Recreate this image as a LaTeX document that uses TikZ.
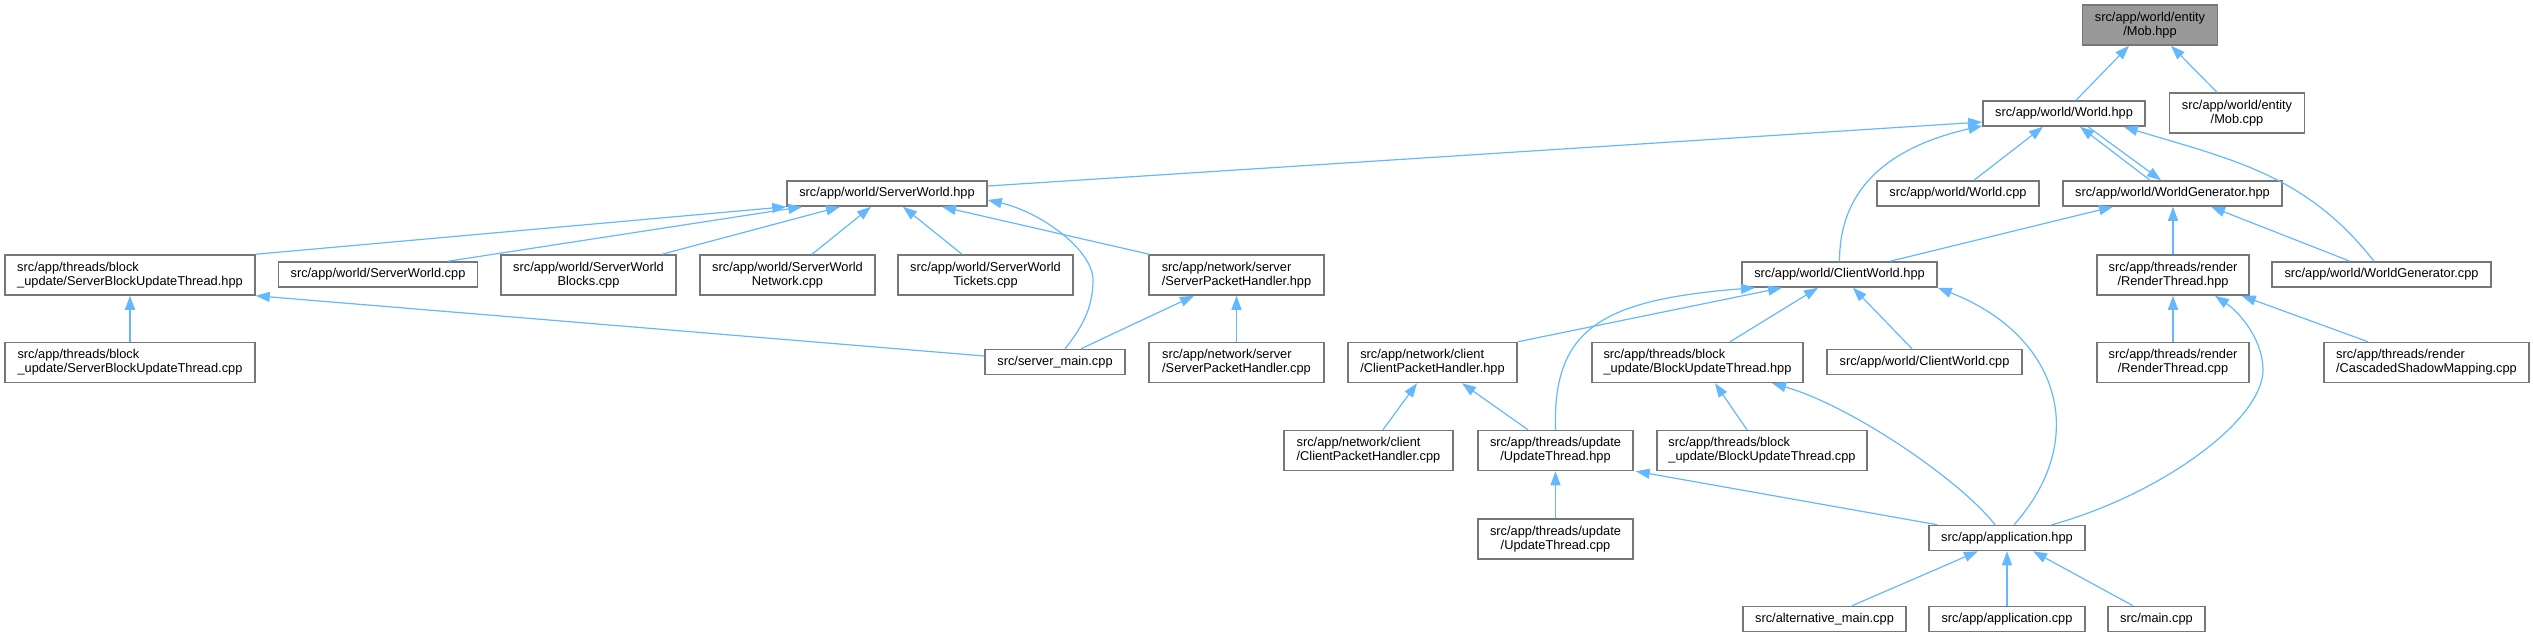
\documentclass[tikz,border=0pt]{standalone}
\usepackage{fontspec}
\setmainfont{Liberation Sans}
\usetikzlibrary{arrows.meta}
\definecolor{edgeblue}{HTML}{63B8FF}
\definecolor{boxline}{HTML}{777777}
\definecolor{boxgrey}{HTML}{999999}
\begin{document}
\begin{tikzpicture}[x=1pt,y=-1pt,
  box/.style={draw=boxline, line width=1.5pt, fill=white, inner sep=0pt,
    font=\fontsize{12.8}{14.2}\selectfont, align=center, minimum height=25pt},
  twoline/.style={minimum height=40pt},
  lft/.style={align=left},
  edge/.style={draw=edgeblue, line width=1.2pt, -{Triangle[length=14pt,width=10pt]}}
]
\path[use as bounding box] (0,0) rectangle (2533,637);

% nodes
\node[box, twoline, fill=boxgrey, minimum width=135pt] (mobh) at (2150,25) {src/app/world/entity\\/Mob.hpp};
\node[box, minimum width=162pt] (worldh) at (2064,113.5) {src/app/world/World.hpp};
\node[box, twoline, minimum width=135pt] (mobcpp) at (2237,113) {src/app/world/entity\\/Mob.cpp};
\node[box, minimum width=200pt] (swh) at (887,193.5) {src/app/world/ServerWorld.hpp};
\node[box, minimum width=162pt] (worldcpp) at (1958,193.5) {src/app/world/World.cpp};
\node[box, minimum width=219pt] (wgh) at (2172.5,193.5) {src/app/world/WorldGenerator.hpp};
\node[box, twoline, lft, minimum width=250pt] (sbuth) at (130,275) {src/app/threads/block\\\_update/ServerBlockUpdateThread.hpp};
\node[box, minimum width=199pt] (swcpp) at (378,274.5) {src/app/world/ServerWorld.cpp};
\node[box, twoline, minimum width=175pt] (swb) at (588.5,275) {src/app/world/ServerWorld\\Blocks.cpp};
\node[box, twoline, minimum width=175pt] (swn) at (787.5,275) {src/app/world/ServerWorld\\Network.cpp};
\node[box, twoline, minimum width=175pt] (swt) at (985.5,275) {src/app/world/ServerWorld\\Tickets.cpp};
\node[box, twoline, lft, minimum width=175pt] (sphh) at (1236.5,275) {src/app/network/server\\/ServerPacketHandler.hpp};
\node[box, minimum width=195pt] (cwh) at (1839.5,274.5) {src/app/world/ClientWorld.hpp};
\node[box, twoline, minimum width=152pt] (rth) at (2173,275) {src/app/threads/render\\/RenderThread.hpp};
\node[box, minimum width=219pt] (wgcpp) at (2381.5,274.5) {src/app/world/WorldGenerator.cpp};
\node[box, twoline, lft, minimum width=250pt] (sbutcpp) at (130,362.5) {src/app/threads/block\\\_update/ServerBlockUpdateThread.cpp};
\node[box, minimum width=140pt] (smain) at (1055,362) {src/server\_main.cpp};
\node[box, twoline, lft, minimum width=175pt] (sphcpp) at (1236.5,362.5) {src/app/network/server\\/ServerPacketHandler.cpp};
\node[box, twoline, lft, minimum width=169pt] (cphh) at (1432.5,362.5) {src/app/network/client\\/ClientPacketHandler.hpp};
\node[box, twoline, lft, minimum width=211pt] (buth) at (1697.5,362.5) {src/app/threads/block\\\_update/BlockUpdateThread.hpp};
\node[box, minimum width=195pt] (cwcpp) at (1924.5,362) {src/app/world/ClientWorld.cpp};
\node[box, twoline, minimum width=152pt] (rtcpp) at (2173,362.5) {src/app/threads/render\\/RenderThread.cpp};
\node[box, twoline, lft, minimum width=205pt] (csm) at (2426.5,362.5) {src/app/threads/render\\/CascadedShadowMapping.cpp};
\node[box, twoline, lft, minimum width=169pt] (cphcpp) at (1368.5,450.5) {src/app/network/client\\/ClientPacketHandler.cpp};
\node[box, twoline, minimum width=155pt] (uth) at (1555.5,450.5) {src/app/threads/update\\/UpdateThread.hpp};
\node[box, twoline, lft, minimum width=210pt] (butcpp) at (1762,450.5) {src/app/threads/block\\\_update/BlockUpdateThread.cpp};
\node[box, twoline, minimum width=155pt] (utcpp) at (1555.5,539) {src/app/threads/update\\/UpdateThread.cpp};
\node[box, minimum width=156pt] (apph) at (2007,538) {src/app/application.hpp};
\node[box, minimum width=163pt] (altmain) at (1824.5,619) {src/alternative\_main.cpp};
\node[box, minimum width=156pt] (appcpp) at (2007,619) {src/app/application.cpp};
\node[box, minimum width=97pt] (maincpp) at (2156.5,619) {src/main.cpp};

% edges (arrow at included file)
\draw[edge] ([xshift=12pt]worldh.north) -- ([xshift=-21pt]mobh.south);
\draw[edge] ([xshift=-20pt]mobcpp.north) -- ([xshift=21pt]mobh.south);
\draw[edge] ([yshift=7.5pt]swh.east) -- ([yshift=-8.5pt]worldh.west);
\draw[edge] ([xshift=16pt]worldcpp.north) -- ([xshift=-21pt]worldh.south);
\draw[edge] ([xshift=-22.5pt]wgh.north) -- ([xshift=16pt]worldh.south);
\draw[edge] ([xshift=24pt]worldh.south) -- ([xshift=-11.5pt]wgh.north);
\draw[edge] (cwh.north) .. controls +(0,-57) and +(-113,26) .. ([yshift=1pt]worldh.south west);
\draw[edge] ([xshift=-7.5pt]wgcpp.north) to[out=128,in=-17] ([xshift=-22pt]worldh.south east);
\draw[edge] ([xshift=50.5pt]cwh.north) -- ([xshift=-59.5pt]wgh.south);
\draw[edge] (rth.north) -- (rth.north |- wgh.south);
\draw[edge] ([xshift=-31.5pt]wgcpp.north) -- ([xshift=38.5pt]wgh.south);
\draw[edge] (sbuth.north east) -- (swh.south west);
\draw[edge] ([xshift=70pt]swcpp.north) -- ([xshift=16pt]swh.south west);
\draw[edge] ([xshift=73.5pt]swb.north) -- ([xshift=-47pt]swh.south);
\draw[edge] ([xshift=24.5pt]swn.north) -- ([xshift=-16pt]swh.south);
\draw[edge] ([xshift=-23.5pt]swt.north) -- ([xshift=16pt]swh.south);
\draw[edge] ([xshift=1pt]sphh.north west) -- ([xshift=55pt]swh.south);
\draw[edge] ([xshift=10pt]smain.north) .. controls +(15,-19) and +(0,30) .. (1093,280)
  .. controls +(0,-30) and +(53,12) .. ([yshift=-6.5pt]swh.east);
\draw[edge] (sbutcpp.north) -- (sbuth.south);
\draw[edge] ([yshift=6pt]smain.west) -- (sbuth.south east);
\draw[edge] ([xshift=26pt]smain.north) -- ([xshift=-42.5pt]sphh.south);
\draw[edge] (sphcpp.north) -- (sphh.south);
\draw[edge] (cphh.north east) -- ([xshift=-57.5pt]cwh.south);
\draw[edge] (uth.north) .. controls +(-3,-100) and +(-155,12) .. ([xshift=-84.5pt]cwh.south);
\draw[edge] ([xshift=32.5pt]buth.north) -- ([xshift=-21.5pt]cwh.south);
\draw[edge] ([xshift=-12.5pt]cwcpp.north) -- ([xshift=13.5pt]cwh.south);
\draw[edge] ([xshift=7pt]apph.north) .. controls +(76,-85) and +(123,48) .. (cwh.south east);
\draw[edge] ([xshift=-34pt]apph.north east) .. controls +(109,-30) and +(0,50) .. (2263,370)
  .. controls +(0,-30) and +(25,17) .. ([xshift=42pt]rth.south);
\draw[edge] ([xshift=-58.5pt]csm.north) -- ([xshift=-8pt]rth.south east);
\draw[edge] (rtcpp.north) -- (rth.south);
\draw[edge] ([xshift=14.5pt]cphcpp.north) -- ([xshift=-15.5pt]cphh.south);
\draw[edge] ([xshift=-27.5pt]uth.north) -- ([xshift=29.5pt]cphh.south);
\draw[edge] ([xshift=-15pt]butcpp.north) -- ([xshift=17.5pt]buth.south);
\draw[edge] ([xshift=-12pt]apph.north) .. controls +(-35,-45) and +(78,22) .. ([xshift=74.5pt]buth.south);
\draw[edge] (utcpp.north) -- (uth.south);
\draw[edge] ([xshift=9pt]apph.north west) -- ([xshift=2pt]uth.south east);
\draw[edge] ([xshift=27.5pt]altmain.north) -- ([xshift=-29pt]apph.south);
\draw[edge] (appcpp.north) -- (apph.south);
\draw[edge] ([xshift=-23.5pt]maincpp.north) -- ([xshift=26pt]apph.south);
\end{tikzpicture}
\end{document}
